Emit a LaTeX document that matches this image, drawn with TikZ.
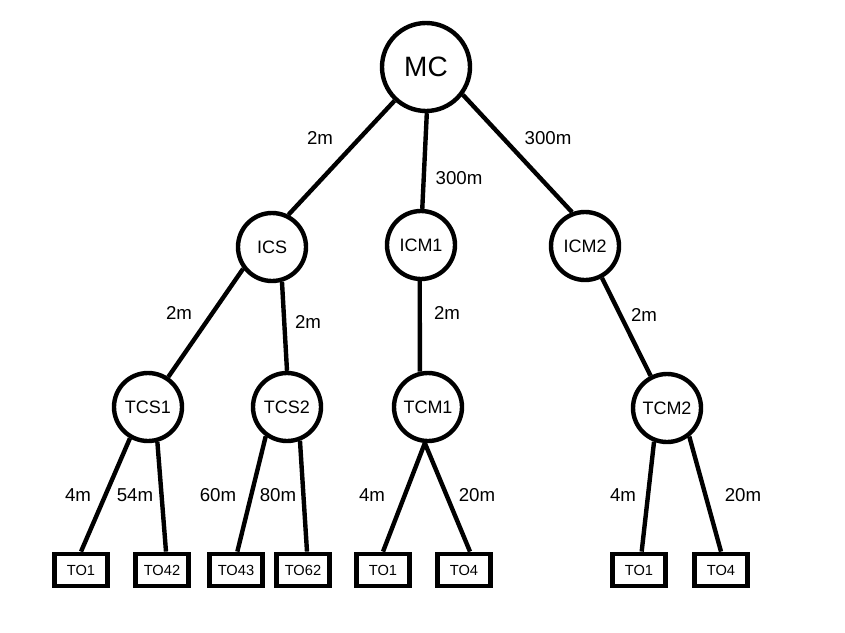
\documentclass[tikz,border=0pt]{standalone}
\usepackage{fontspec}
\setmainfont{Liberation Sans}
\begin{document}
\begin{tikzpicture}[
    x=0.75pt, y=-0.75pt,
    ctrl/.style={circle, draw=black, line width=3.3pt, inner sep=0pt, minimum size=51pt, font=\fontsize{13.5}{16}\selectfont},
    root/.style={ctrl, minimum size=66pt, font=\fontsize{21}{24}\selectfont},
    outlet/.style={rectangle, draw=black, line width=3.6pt, inner sep=0pt, minimum width=40pt, minimum height=24pt, font=\fontsize{11}{13}\selectfont},
    dist/.style={font=\fontsize{14}{16}\selectfont},
    cable/.style={line width=3.3pt}
]
    \useasboundingbox (0,0) rectangle (845,632);

    % Controllers
    \node[root] (mc) at (426,67) {MC};
    \node[ctrl] (ics) at (272,247) {ICS};
    \node[ctrl] (icm1) at (421,245) {ICM1};
    \node[ctrl] (icm2) at (585,246) {ICM2};
    \node[ctrl] (tcs1) at (148,407) {TCS1};
    \node[ctrl] (tcs2) at (287,407) {TCS2};
    \node[ctrl] (tcm1) at (428,407) {TCM1};
    \node[ctrl] (tcm2) at (667,408) {TCM2};

    % Outlets
    \node[outlet] (o1) at (81,570) {TO1};
    \node[outlet] (o2) at (162,570) {TO42};
    \node[outlet] (o3) at (236,570) {TO43};
    \node[outlet] (o4) at (303,570) {TO62};
    \node[outlet] (o5) at (383,570) {TO1};
    \node[outlet] (o6) at (464,570) {TO4};
    \node[outlet] (o7) at (639,570) {TO1};
    \node[outlet] (o8) at (721,570) {TO4};

    % Cables
    \draw[cable] (mc.227) -- (ics.63);
    \draw[cable] (mc.271) -- (icm1.88);
    \draw[cable] (mc.323) -- (icm2.111);
    \draw[cable] (ics.217) -- (tcs1.56);
    \draw[cable] (ics.286) -- (tcs2.90);
    \draw[cable] (icm1.268) -- (tcm1.103);
    \draw[cable] (icm2.298) -- (tcm2.117);
    \draw[cable] (tcs1.240) -- (o1.north);
    \draw[cable] (tcs1.285) -- ([xshift=3pt]o2.north);
    \draw[cable] (tcs2.234) -- ([xshift=1pt]o3.north);
    \draw[cable] (tcs2.291) -- ([xshift=3pt]o4.north);
    \draw[cable] (tcm1.265) -- (o5.north);
    \draw[cable] (tcm1.265) -- ([xshift=4.5pt]o6.north);
    \draw[cable] (tcm2.249) -- ([xshift=2pt]o7.north);
    \draw[cable] (tcm2.308) -- (o8.north);

    % Lengths
    \node[dist] (d1) at (320,138) {2m};
    \node[dist] (d2) at (459,178) {300m};
    \node[dist] (d3) at (548,138) {300m};
    \node[dist] (d4) at (179,313) {2m};
    \node[dist] (d5) at (308,322) {2m};
    \node[dist] (d6) at (447,313) {2m};
    \node[dist] (d7) at (644,315) {2m};
    \node[dist] (d8) at (78,495) {4m};
    \node[dist] (d9) at (135,495) {54m};
    \node[dist] (d10) at (218,495) {60m};
    \node[dist] (d11) at (278,495) {80m};
    \node[dist] (d12) at (372,495) {4m};
    \node[dist] (d13) at (477,495) {20m};
    \node[dist] (d14) at (623,495) {4m};
    \node[dist] (d15) at (743,495) {20m};
\end{tikzpicture}
\end{document}
